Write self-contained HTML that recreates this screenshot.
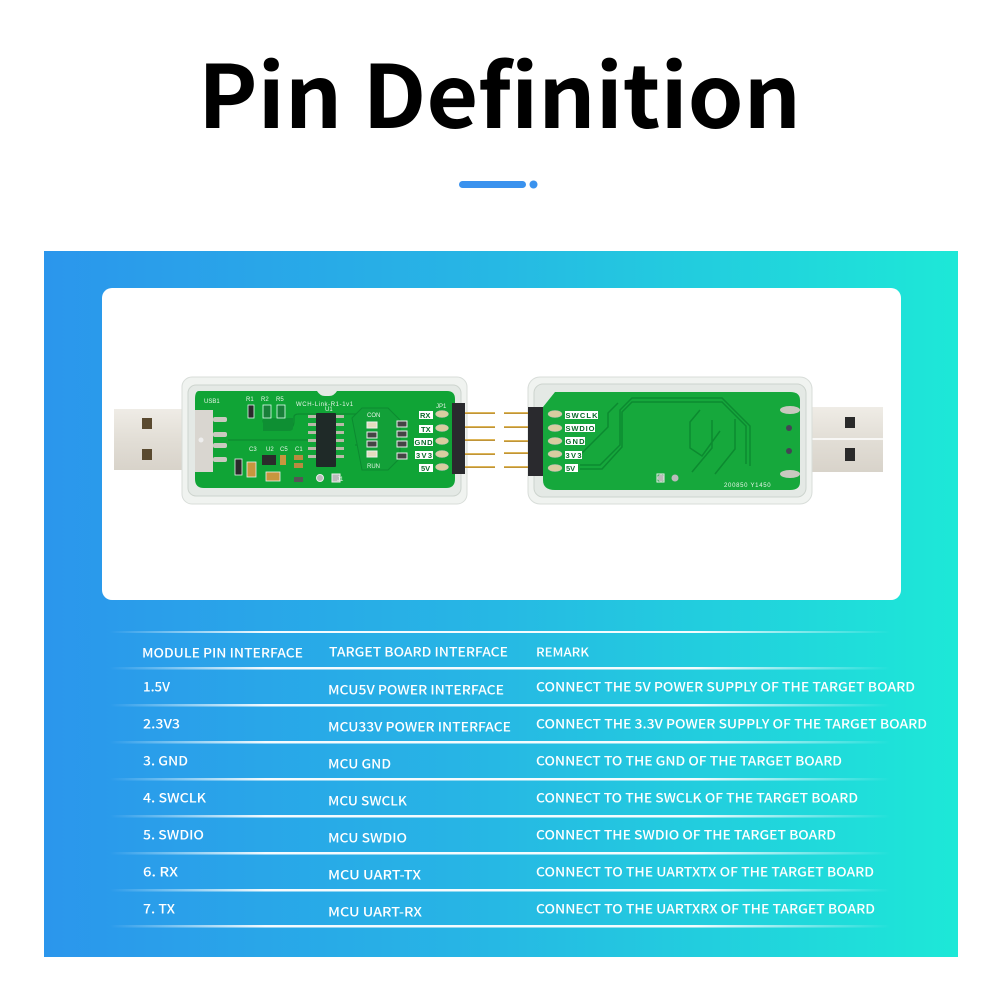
<!DOCTYPE html>
<html><head><meta charset="utf-8"><style>
html,body{margin:0;padding:0;background:#fff}
svg{display:block}
.t{font-family:"Noto Sans CJK SC","Liberation Sans",sans-serif;font-weight:500;font-size:13px;fill:#fff;dominant-baseline:central;transform:translateY(-.8px)}
.s{font-family:"Liberation Sans",sans-serif;font-size:6px;fill:#e8f5e8}
.l{font-family:"Liberation Sans",sans-serif;font-weight:700;font-size:7.5px;fill:#0a6b2a}
</style></head><body>
<svg width="1000" height="1000" viewBox="0 0 1000 1000" xmlns="http://www.w3.org/2000/svg">
<defs>
<linearGradient id="bg" x1="0" y1="0" x2="1" y2="0"><stop offset="0" stop-color="#2b96ec"/><stop offset=".45" stop-color="#27b4e5"/><stop offset="1" stop-color="#1de8d7"/></linearGradient>
<linearGradient id="ln" x1="0" y1="0" x2="1" y2="0"><stop offset="0" stop-color="#fff" stop-opacity="0"/><stop offset=".2" stop-color="#fff" stop-opacity=".95"/><stop offset=".75" stop-color="#fff" stop-opacity=".95"/><stop offset="1" stop-color="#fff" stop-opacity="0"/></linearGradient>
<linearGradient id="plug" x1="0" y1="0" x2="0" y2="1"><stop offset="0" stop-color="#efece6"/><stop offset=".5" stop-color="#e2ded6"/><stop offset="1" stop-color="#d8d3ca"/></linearGradient>
<linearGradient id="gold" x1="0" y1="0" x2="0" y2="1"><stop offset="0" stop-color="#ecc668"/><stop offset="1" stop-color="#b08428"/></linearGradient>
</defs>
<rect width="1000" height="1000" fill="#fff"/>
<text x="198" y="128" textLength="603" lengthAdjust="spacingAndGlyphs" font-family="'Noto Sans CJK SC','Liberation Sans',sans-serif" font-weight="700" font-size="87" fill="#000">Pin Definition</text>
<rect x="459" y="181" width="67" height="7" rx="3.500" fill="#3a92ee"/><circle cx="533.500" cy="184.500" r="4" fill="#3a92ee"/>
<rect x="44" y="251" width="914" height="706" fill="url(#bg)"/>
<rect x="102" y="288" width="799" height="312" rx="10" fill="#fff"/>

<!-- left device -->
<rect x="114" y="409" width="72" height="61" fill="url(#plug)"/>
<rect x="142" y="418" width="10" height="11" fill="#5a4a30"/><rect x="142" y="449" width="10" height="11" fill="#5a4a30"/>
<rect x="182" y="377" width="285" height="127" rx="10" fill="#f0f3f0" stroke="#d8ddd9"/>
<rect x="188" y="385" width="273" height="111" rx="8" fill="#e4e9e5" stroke="#cdd4ce"/>
<path d="M199 391H317q3 5 8 5h4q5 0 8-5H447q8 0 8 8v80q0 9-9 9H204q-9 0-9-9V399q0-8 4-8z" fill="#10a436"/>
<rect x="195" y="410" width="18" height="62" fill="#d9d6d0"/><circle cx="201" cy="440" r="2.500" fill="#eee"/>
<rect x="213" y="417" width="14" height="5" rx="2" fill="#c9c9c0"/><rect x="213" y="432" width="14" height="5" rx="2" fill="#c9c9c0"/><rect x="213" y="443" width="14" height="5" rx="2" fill="#c9c9c0"/><rect x="213" y="457" width="14" height="5" rx="2" fill="#c9c9c0"/>
<path d="M228 440H312M355 436H375M355 445H375M263 420q0 9 15 9h9q7 0 7-8v-4q0-3 5-3h78" stroke="#0c8a30" stroke-width="1.200" fill="none"/>
<path d="M263 418h30v10q0 3-5 3h-25z" fill="#0e8f33"/>
<rect x="248" y="405" width="6" height="13" fill="#2a2a2a" stroke="#dfe" stroke-width=".8"/><rect x="263" y="405" width="8" height="13" fill="#19803a" stroke="#dfe" stroke-width=".8"/><rect x="277" y="405" width="8" height="13" fill="#19803a" stroke="#dfe" stroke-width=".8"/>
<rect x="316" y="413" width="20" height="54" rx="1" fill="#1f2a28"/>
<g fill="#b9b9a8"><rect x="308" y="415" width="8" height="3"/><rect x="308" y="423" width="8" height="3"/><rect x="308" y="431" width="8" height="3"/><rect x="308" y="439" width="8" height="3"/><rect x="308" y="447" width="8" height="3"/><rect x="308" y="455" width="8" height="3"/><rect x="336" y="415" width="8" height="3"/><rect x="336" y="423" width="8" height="3"/><rect x="336" y="431" width="8" height="3"/><rect x="336" y="439" width="8" height="3"/><rect x="336" y="447" width="8" height="3"/><rect x="336" y="455" width="8" height="3"/></g>
<path d="M352 418l10-10h26l12 12v38l-12 12h-26z" fill="#12a038" stroke="#0c8a30"/>
<g stroke="#eee" stroke-width="1"><rect x="367" y="422" width="10" height="6" fill="#e4dcc0"/><rect x="367" y="432" width="10" height="6" fill="#444"/><rect x="367" y="441" width="10" height="6" fill="#444"/><rect x="367" y="451" width="10" height="6" fill="#e4dcc0"/><rect x="397" y="421" width="10" height="6" fill="#444"/><rect x="397" y="431" width="10" height="6" fill="#444"/><rect x="397" y="441" width="10" height="6" fill="#444"/><rect x="397" y="453" width="10" height="6" fill="#444"/></g>
<rect x="235" y="459" width="7" height="16" fill="#2a2a2a" stroke="#eee" stroke-width=".8"/><rect x="247" y="462" width="9" height="15" fill="#c8963e" stroke="#eee" stroke-width=".8"/>
<rect x="262" y="455" width="14" height="10" fill="#2b2b2b"/><rect x="266" y="472" width="14" height="9" fill="#c8963e" stroke="#eee" stroke-width=".8"/>
<rect x="280" y="455" width="6" height="10" fill="#c8963e"/><rect x="294" y="455" width="9" height="5" fill="#b98a40"/><rect x="294" y="463" width="9" height="5" fill="#b98a40"/><rect x="294" y="477" width="9" height="5" fill="#555"/>
<circle cx="320" cy="478" r="3.500" fill="#bbb" stroke="#eee"/><rect x="332" y="474" width="8" height="8" fill="#bbb" stroke="#eee"/>
<text x="204" y="403" class="s">USB1</text><text x="246" y="401" class="s">R1</text><text x="261" y="401" class="s">R2</text><text x="276" y="401" class="s">R5</text>
<text x="296" y="406" class="s" letter-spacing=".6">WCH-Link-R1-1v1</text><text x="325" y="411" class="s">U1</text><text x="367" y="417" class="s">CON</text><text x="367" y="468" class="s">RUN</text>
<text x="249" y="451" class="s">C3</text><text x="266" y="451" class="s">U2</text><text x="280" y="451" class="s">C5</text><text x="295" y="451" class="s">C1</text><text x="337" y="481" class="s">J1</text><text x="436" y="408" class="s">JP1</text>
<g><rect x="419" y="411" width="14" height="8" fill="#fff"/><rect x="419" y="425" width="14" height="8" fill="#fff"/><rect x="414" y="438" width="19" height="8" fill="#fff"/><rect x="415" y="451" width="18" height="8" fill="#fff"/><rect x="419" y="464" width="14" height="8" fill="#fff"/></g>
<text x="420" y="418" class="l">RX</text><text x="421" y="432" class="l">TX</text><text x="414.500" y="445" class="l" textLength="18">GND</text><text x="416" y="458" class="l" textLength="16">3V3</text><text x="421" y="471" class="l">5V</text>
<g fill="#d9cda0" stroke="#bbb" stroke-width=".5"><ellipse cx="442" cy="414" rx="6.500" ry="3.500"/><ellipse cx="442" cy="428" rx="6.500" ry="3.500"/><ellipse cx="442" cy="441" rx="6.500" ry="3.500"/><ellipse cx="442" cy="454" rx="6.500" ry="3.500"/><ellipse cx="442" cy="467" rx="6.500" ry="3.500"/></g>
<rect x="452" y="403" width="13" height="71" fill="#2a2a2e"/>
<g fill="url(#gold)"><rect x="465" y="412" width="30" height="2"/><rect x="465" y="426" width="30" height="2"/><rect x="465" y="439" width="30" height="2"/><rect x="465" y="453" width="30" height="2"/><rect x="465" y="466" width="30" height="2"/></g>

<!-- right device -->
<rect x="810" y="407" width="73" height="65" fill="url(#plug)"/>
<rect x="845" y="417" width="10" height="11" fill="#2a2a2a"/><rect x="845" y="448" width="10" height="13" fill="#2a2a2a"/>
<path d="M812 439h72" stroke="#fff" stroke-width="1.500"/>
<rect x="528" y="377" width="284" height="127" rx="12" fill="#f0f3f0" stroke="#d8ddd9"/>
<rect x="534" y="384" width="272" height="113" rx="9" fill="#e4e9e5" stroke="#cdd4ce"/>
<path d="M555 392H790q10 0 10 8v82q0 8-10 8H555q-12 0-12-10V407z" fill="#16a83c"/>
<path d="M580 465h20l20-20V410l12-12h90l28 28v40M580 469h22l20-22V412l10-10h90l24 24v38M580 455l28-28v-14l10-10M700 410l-10 12v26l12 8 18-25M712 420v28l-20 24M735 419v30l-20 25" stroke="#0c8a30" stroke-width="1.500" fill="none"/>
<rect x="528" y="407" width="15" height="69" fill="#2a2a2e"/>
<g fill="url(#gold)"><rect x="504" y="412" width="24" height="2"/><rect x="504" y="426" width="24" height="2"/><rect x="504" y="440" width="24" height="2"/><rect x="504" y="452" width="24" height="2"/><rect x="504" y="466" width="24" height="2"/></g>
<g fill="#d9cda0" stroke="#bbb" stroke-width=".5"><ellipse cx="555" cy="414" rx="7" ry="3.500"/><ellipse cx="555" cy="428" rx="7" ry="3.500"/><ellipse cx="555" cy="441" rx="7" ry="3.500"/><ellipse cx="555" cy="454" rx="7" ry="3.500"/><ellipse cx="555" cy="468" rx="7" ry="3.500"/></g>
<g fill="#fff"><rect x="565" y="411" width="33" height="8"/><rect x="565" y="424" width="30" height="8"/><rect x="565" y="437" width="20" height="8"/><rect x="565" y="451" width="17" height="8"/><rect x="565" y="464" width="13" height="8"/></g>
<text x="565.500" y="418" class="l" textLength="32">SWCLK</text><text x="565.500" y="431" class="l" textLength="29">SWDIO</text><text x="565.500" y="444" class="l" textLength="19">GND</text><text x="565.500" y="458" class="l" textLength="16">3V3</text><text x="566" y="471" class="l">5V</text>
<ellipse cx="790" cy="410" rx="10" ry="4" fill="#c9c9c0"/><ellipse cx="790" cy="474" rx="10" ry="4" fill="#c9c9c0"/><circle cx="789" cy="428" r="3" fill="#445"/><circle cx="789" cy="451" r="3" fill="#445"/>
<circle cx="661" cy="478" r="3.500" fill="#bbb"/><rect x="657" y="474" width="7" height="8" fill="none" stroke="#eee"/><circle cx="675" cy="478" r="3.500" fill="#bbb"/>
<text x="724" y="487" class="s" letter-spacing=".7">200850 Y1450</text>

<!-- table lines -->
<g fill="url(#ln)"><rect x="110" y="631" width="780" height="2"/><rect x="110" y="667" width="780" height="2.500"/><rect x="110" y="704" width="780" height="2.500"/><rect x="110" y="741" width="780" height="2.500"/><rect x="110" y="778" width="780" height="2.500"/><rect x="110" y="815" width="780" height="2.500"/><rect x="110" y="852" width="780" height="2.500"/><rect x="110" y="889" width="780" height="2.500"/><rect x="110" y="925" width="780" height="2.500"/></g>

<text class="t" x="142" y="653" textLength="161" lengthAdjust="spacingAndGlyphs">MODULE PIN INTERFACE</text>
<text class="t" x="329" y="652" textLength="179" lengthAdjust="spacingAndGlyphs">TARGET BOARD INTERFACE</text>
<text class="t" x="536" y="653" textLength="53" lengthAdjust="spacingAndGlyphs" style="font-size:12px">REMARK</text>
<text class="t" x="143" y="687" textLength="27" lengthAdjust="spacingAndGlyphs">1.5V</text>
<text class="t" x="143" y="724" textLength="37" lengthAdjust="spacingAndGlyphs">2.3V3</text>
<text class="t" x="143" y="761" textLength="45" lengthAdjust="spacingAndGlyphs">3. GND</text>
<text class="t" x="143" y="798" textLength="63" lengthAdjust="spacingAndGlyphs">4. SWCLK</text>
<text class="t" x="143" y="835" textLength="61" lengthAdjust="spacingAndGlyphs">5. SWDIO</text>
<text class="t" x="143" y="872" textLength="35" lengthAdjust="spacingAndGlyphs">6. RX</text>
<text class="t" x="143" y="909" textLength="32" lengthAdjust="spacingAndGlyphs">7. TX</text>
<text class="t" x="328" y="690" textLength="176" lengthAdjust="spacingAndGlyphs">MCU5V POWER INTERFACE</text>
<text class="t" x="328" y="727" textLength="183" lengthAdjust="spacingAndGlyphs">MCU33V POWER INTERFACE</text>
<text class="t" x="328" y="764" textLength="63" lengthAdjust="spacingAndGlyphs">MCU GND</text>
<text class="t" x="328" y="801" textLength="79" lengthAdjust="spacingAndGlyphs">MCU SWCLK</text>
<text class="t" x="328" y="838" textLength="79" lengthAdjust="spacingAndGlyphs">MCU SWDIO</text>
<text class="t" x="328" y="875" textLength="93" lengthAdjust="spacingAndGlyphs">MCU UART-TX</text>
<text class="t" x="328" y="912" textLength="94" lengthAdjust="spacingAndGlyphs">MCU UART-RX</text>
<text class="t" x="536" y="687" textLength="379" lengthAdjust="spacingAndGlyphs">CONNECT THE 5V POWER SUPPLY OF THE TARGET BOARD</text>
<text class="t" x="536" y="724" textLength="391" lengthAdjust="spacingAndGlyphs">CONNECT THE 3.3V POWER SUPPLY OF THE TARGET BOARD</text>
<text class="t" x="536" y="761" textLength="306" lengthAdjust="spacingAndGlyphs">CONNECT TO THE GND OF THE TARGET BOARD</text>
<text class="t" x="536" y="798" textLength="322" lengthAdjust="spacingAndGlyphs">CONNECT TO THE SWCLK OF THE TARGET BOARD</text>
<text class="t" x="536" y="835" textLength="300" lengthAdjust="spacingAndGlyphs">CONNECT THE SWDIO OF THE TARGET BOARD</text>
<text class="t" x="536" y="872" textLength="338" lengthAdjust="spacingAndGlyphs">CONNECT TO THE UARTXTX OF THE TARGET BOARD</text>
<text class="t" x="536" y="909" textLength="339" lengthAdjust="spacingAndGlyphs">CONNECT TO THE UARTXRX OF THE TARGET BOARD</text>
</svg>
</body></html>
